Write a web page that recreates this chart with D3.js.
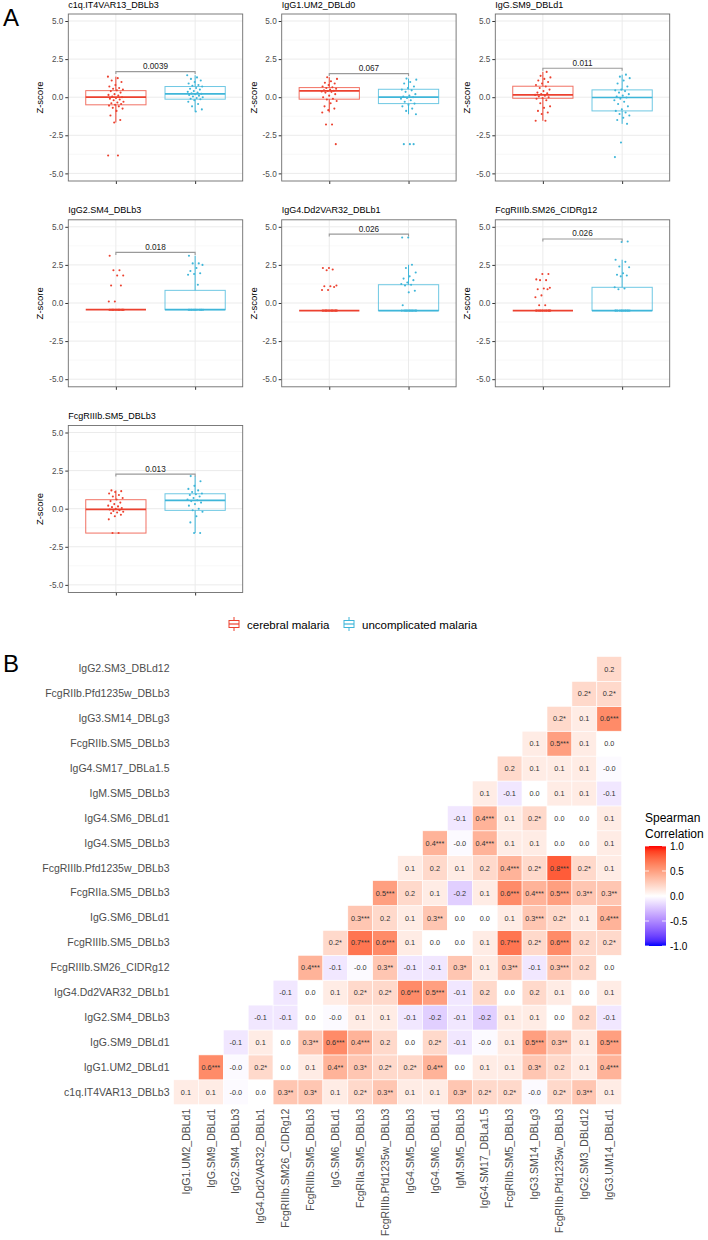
<!DOCTYPE html>
<html><head><meta charset="utf-8">
<script src="https://cdn.jsdelivr.net/npm/d3@7"></script>
<style>body{margin:0;background:#fff} svg{display:block;font-family:"Liberation Sans",Arial,sans-serif}</style>
</head><body><svg id="c" width="708" height="1240"></svg>
<script>
// ---------- Panel A data ----------
const groups = ["cerebral malaria", "uncomplicated malaria"];
const panelTitles = ["c1q.IT4VAR13_DBLb3","IgG1.UM2_DBLd0","IgG.SM9_DBLd1","IgG2.SM4_DBLb3","IgG4.Dd2VAR32_DBLb1","FcgRIIIb.SM26_CIDRg12","FcgRIIIb.SM5_DBLb3"];
const pLabels = ["0.0039","0.067","0.011","0.018","0.026","0.026","0.013"];
const bracketY = [1.68, 1.55, 1.9, 3.32, 4.52, 4.2, 2.27];
// box stats: [q1, median, q3, whiskerLow, whiskerHigh]
const boxCM = [[-0.5,0,0.43,-1.66,1.35],[-0.13,0.41,0.63,-1.0,1.31],[-0.07,0.15,0.72,-1.55,1.66],[-0.44,-0.44,-0.44,-0.44,-0.44],[-0.5,-0.5,-0.5,-0.5,-0.5],[-0.5,-0.5,-0.5,-0.5,-0.5],[-1.6,-0.05,0.59,-1.6,1.2]];
const boxUM = [[-0.13,0.22,0.7,-0.94,1.44],[-0.42,0.0,0.52,-1.12,1.22],[-0.9,-0.02,0.48,-1.75,1.48],[-0.44,-0.44,0.83,-0.44,3.1],[-0.5,-0.5,1.2,-0.5,2.51],[-0.5,-0.5,1.03,-0.5,2.84],[-0.11,0.54,0.98,-1.6,2.14]];
const ptsCM = [
 [1.35,1.25,1.1,1.0,0.8,0.7,0.6,0.55,0.5,0.45,0.4,0.3,0.2,0.15,0.1,0.05,0.0,-0.05,-0.1,-0.15,-0.2,-0.3,-0.35,-0.4,-0.45,-0.5,-0.55,-0.6,-0.7,-0.75,-0.9,-1.2,-1.5,-1.66,-3.83,-3.83],
 [1.31,1.2,1.05,0.95,0.9,0.8,0.7,0.65,0.6,0.55,0.5,0.45,0.42,0.41,0.38,0.35,0.3,0.2,0.1,0.0,-0.1,-0.15,-0.25,-0.4,-0.6,-0.75,-0.85,-1.0,-1.79,-1.79,-3.08],
 [1.66,1.4,1.3,1.2,1.1,1.0,0.9,0.8,0.7,0.6,0.5,0.4,0.3,0.25,0.2,0.15,0.1,0.05,0.0,-0.05,-0.1,-0.2,-0.4,-0.6,-0.7,-0.9,-1.0,-1.1,-1.55,-1.55],
 [3.1,2.15,2.15,1.8,1.8,1.15,1.15,0.1,0.1,-0.44,-0.44,-0.44,-0.44,-0.44,-0.44,-0.44,-0.44,-0.44,-0.44,-0.44,-0.44,-0.44,-0.44,-0.44,-0.44],
 [2.3,2.3,2.2,2.15,1.15,1.1,1.1,1.05,0.85,0.85,-0.5,-0.5,-0.5,-0.5,-0.5,-0.5,-0.5,-0.5,-0.5,-0.5,-0.5,-0.5,-0.5,-0.5,-0.5,-0.5],
 [1.9,1.9,1.55,1.5,1.5,1.0,0.95,0.9,0.9,0.5,0.38,-0.15,-0.15,-0.5,-0.5,-0.5,-0.5,-0.5,-0.5,-0.5,-0.5,-0.5,-0.5,-0.5,-0.5,-0.5,-0.5],
 [1.2,1.15,1.1,1.0,0.9,0.8,0.7,0.6,0.5,0.4,0.3,0.2,0.15,0.1,0.05,0.0,-0.05,-0.1,-0.15,-0.2,-0.25,-0.3,-0.4,-0.5,-0.7,-1.6,-1.6]
];
const ptsUM = [
 [1.44,1.3,1.2,1.1,1.0,0.9,0.8,0.75,0.7,0.6,0.55,0.5,0.4,0.35,0.3,0.25,0.22,0.2,0.15,0.1,0.05,0.0,-0.05,-0.1,-0.13,-0.2,-0.3,-0.45,-0.6,-0.8,-0.94],
 [1.22,1.15,1.0,0.9,0.7,0.6,0.5,0.45,0.35,0.2,0.1,0.05,0.0,-0.05,-0.1,-0.2,-0.3,-0.42,-0.5,-0.6,-0.75,-0.9,-1.12,-3.08,-3.08,-3.08],
 [1.48,1.35,1.25,1.1,0.9,0.7,0.5,0.45,0.4,0.3,0.2,0.1,0.05,-0.02,-0.1,-0.2,-0.3,-0.45,-0.6,-0.8,-0.9,-1.0,-1.1,-1.2,-1.35,-1.5,-1.75,-2.97,-3.93],
 [3.1,2.6,2.6,2.5,2.3,2.1,1.95,1.9,1.85,1.2,-0.44,-0.44,-0.44,-0.44,-0.44,-0.44,-0.44,-0.44,-0.44,-0.44,-0.44,-0.44],
 [4.3,4.3,2.51,2.3,2.0,1.75,1.6,1.5,1.35,1.25,1.2,1.15,0.8,0.7,-0.15,-0.5,-0.5,-0.5,-0.5,-0.5,-0.5,-0.5,-0.5,-0.5,-0.5,-0.5,-0.5],
 [4.04,4.0,2.84,2.7,2.4,2.35,1.95,1.85,1.8,1.75,1.03,0.95,0.9,-0.5,-0.5,-0.5,-0.5,-0.5,-0.5,-0.5,-0.5,-0.5,-0.5,-0.5,-0.5],
 [2.14,1.8,1.5,1.3,1.2,1.1,1.0,0.95,0.9,0.8,0.7,0.6,0.55,0.5,0.4,0.3,0.2,0.0,-0.1,-0.2,-0.5,-0.9,-1.6,-1.6]
];
const yTicks = [-5, -2.5, 0, 2.5, 5];
const yMinor = [-3.75, -1.25, 1.25, 3.75];
const groupColors = ["#EC412F", "#3FB6D9"];

// ---------- Panel B data ----------
const corrVars = ["c1q.IT4VAR13_DBLb3","IgG1.UM2_DBLd1","IgG.SM9_DBLd1","IgG2.SM4_DBLb3","IgG4.Dd2VAR32_DBLb1","FcgRIIIb.SM26_CIDRg12","FcgRIIIb.SM5_DBLb3","IgG.SM6_DBLd1","FcgRIIa.SM5_DBLb3","FcgRIIIb.Pfd1235w_DBLb3","IgG4.SM5_DBLb3","IgG4.SM6_DBLd1","IgM.SM5_DBLb3","IgG4.SM17_DBLa1.5","FcgRIIb.SM5_DBLb3","IgG3.SM14_DBLg3","FcgRIIb.Pfd1235w_DBLb3","IgG2.SM3_DBLd12","IgG3.UM14_DBLd1"];
// row i holds correlations of corrVars[i] with corrVars[i+1 .. 18]
const corrValues = [
 [0.1,0.1,-0.02,0.0,0.3,0.3,0.1,0.2,0.3,0.1,0.1,0.3,0.2,0.2,-0.02,0.2,0.3,0.1],
 [0.6,-0.02,0.2,0.0,0.1,0.4,0.3,0.2,0.2,0.4,0.0,0.1,0.1,0.3,0.2,0.1,0.4],
 [-0.1,0.1,0.0,0.3,0.6,0.4,0.2,0.0,0.2,-0.1,-0.02,0.1,0.5,0.3,0.1,0.5],
 [-0.1,-0.1,0.0,-0.02,0.1,0.1,-0.1,-0.2,-0.1,-0.2,0.1,0.1,0.0,0.2,-0.1],
 [-0.1,0.0,0.1,0.2,0.2,0.6,0.5,-0.1,0.2,0.0,0.2,0.1,0.0,0.1],
 [0.4,-0.1,-0.02,0.3,-0.1,-0.1,0.3,0.1,0.3,-0.1,0.3,0.2,0.0],
 [0.2,0.7,0.6,0.1,0.0,0.0,0.1,0.7,0.2,0.6,0.2,0.2],
 [0.3,0.2,0.1,0.3,0.0,0.0,0.1,0.3,0.2,0.1,0.4],
 [0.5,0.2,0.1,-0.2,0.1,0.6,0.4,0.5,0.3,0.3],
 [0.1,0.2,0.1,0.2,0.4,0.2,0.8,0.2,0.1],
 [0.4,-0.02,0.4,0.1,0.1,0.0,0.0,0.1],
 [-0.1,0.4,0.1,0.2,0.0,0.0,0.1],
 [0.1,-0.1,0.0,0.1,0.1,-0.1],
 [0.2,0.1,0.1,0.1,-0.02],
 [0.1,0.5,0.1,0.0],
 [0.2,0.1,0.6],
 [0.2,0.2],
 [0.2]
];
const corrStars = [
 ["","","","","**","*","","*","**","","","*","*","*","","*","**",""],
 ["***","","*","","","**","*","*","*","**","","","","*","","","***"],
 ["","","","**","***","***","","","*","","","","***","**","","***"],
 ["","","","","","","","","","","","","","",""],
 ["","","","*","*","***","***","","","","","","",""],
 ["***","","","**","","","*","","**","","***","",""],
 ["*","***","***","","","","","***","*","***","","*"],
 ["***","","","**","","","","***","*","","***"],
 ["***","","","","","***","***","***","**","**"],
 ["","","","","***","*","***","*",""],
 ["***","","***","","","","",""],
 ["","***","","*","","",""],
 ["","","","","",""],
 ["","","","",""],
 ["","***","",""],
 ["*","","***"],
 ["*","*"],
 [""]
];
const legendTicks = [-1, -0.5, 0, 0.5, 1];

// ---------- draw ----------
const svg = d3.select("#c");
const fmt1 = v => (v < 0 ? "-" : "") + Math.abs(v).toFixed(1);

svg.append("text").attr("x", 3).attr("y", 26).attr("font-size", 24).attr("fill", "#000").text("A");

const panelLeft = [68.3, 281.7, 495.3], panelW = 174.4;
const rowTop = [14, 219.8, 425.5], panelH = 167;

panelTitles.forEach((title, p) => {
  const col = p % 3, row = Math.floor(p / 3);
  const g = svg.append("g").attr("transform", `translate(${panelLeft[col]},${rowTop[row]})`);
  const y = d3.scaleLinear().domain([-5.5, 5.46]).range([panelH, 0]);
  const x = d3.scalePoint().domain(groups).range([0, panelW]).padding(0.6);
  const step = x.step();
  g.append("rect").attr("width", panelW).attr("height", panelH).attr("fill", "#fff");
  g.selectAll(".mn").data(yMinor).join("line").attr("x1", 0).attr("x2", panelW)
    .attr("y1", d => y(d)).attr("y2", d => y(d)).attr("stroke", "#f3f3f3").attr("stroke-width", 0.6);
  g.selectAll(".mj").data(yTicks).join("line").attr("x1", 0).attr("x2", panelW)
    .attr("y1", d => y(d)).attr("y2", d => y(d)).attr("stroke", "#ebebeb").attr("stroke-width", 1);
  g.selectAll(".vx").data(groups).join("line").attr("x1", d => x(d)).attr("x2", d => x(d))
    .attr("y1", 0).attr("y2", panelH).attr("stroke", "#ebebeb").attr("stroke-width", 1);

  const ya = g.append("g").call(d3.axisLeft(y).tickValues(yTicks).tickSize(3).tickPadding(2));
  ya.select(".domain").remove();
  ya.selectAll("line").attr("stroke", "#333");
  ya.selectAll("text").attr("font-size", 8.2).attr("fill", "#4d4d4d").attr("font-family", "Liberation Sans, Arial, sans-serif")
    .text(d => fmt1(d));
  const xa = g.append("g").attr("transform", `translate(0,${panelH})`).call(d3.axisBottom(x).tickSize(3).tickFormat(""));
  xa.select(".domain").remove();
  xa.selectAll("line").attr("stroke", "#333");

  g.append("text").attr("transform", `translate(-25,${panelH/2}) rotate(-90)`).attr("text-anchor", "middle")
    .attr("font-size", 9.5).attr("fill", "#000").text("Z-score");
  g.append("text").attr("x", 0).attr("y", -6.5).attr("font-size", 9).attr("fill", "#000").text(title);

  const bw = 0.76 * step;
  [boxCM[p], boxUM[p]].forEach((b, gi) => {
    const cx = x(groups[gi]), c = groupColors[gi];
    const [q1, med, q3, lo, hi] = b;
    g.append("line").attr("x1", cx).attr("x2", cx).attr("y1", y(q3)).attr("y2", y(hi)).attr("stroke", c).attr("stroke-width", 1);
    g.append("line").attr("x1", cx).attr("x2", cx).attr("y1", y(q1)).attr("y2", y(lo)).attr("stroke", c).attr("stroke-width", 1);
    g.append("rect").attr("x", cx - bw/2).attr("width", bw).attr("y", y(q3)).attr("height", Math.max(0, y(q1) - y(q3)))
      .attr("fill", "none").attr("stroke", c).attr("stroke-width", 1).attr("stroke-opacity", 0.75);
    g.append("line").attr("x1", cx - bw/2).attr("x2", cx + bw/2).attr("y1", y(med)).attr("y2", y(med)).attr("stroke", c).attr("stroke-width", 1.7);
    const pts = gi === 0 ? ptsCM[p] : ptsUM[p];
    g.selectAll(null).data(pts).join("circle")
      .attr("cx", (d, i) => cx + (((i * 0.6180339887 + p * 0.37) % 1) - 0.5) * 0.2 * step)
      .attr("cy", d => y(d)).attr("r", 1.05).attr("fill", c);
  });
  const by = y(bracketY[p]), x1 = x(groups[0]), x2 = x(groups[1]);
  g.append("path").attr("d", `M${x1},${by + 2.5}V${by}H${x2}V${by + 2.5}`).attr("fill", "none")
    .attr("stroke", "#9a9a9a").attr("stroke-width", 1.1);
  g.append("text").attr("x", (x1 + x2) / 2).attr("y", by - 2.6).attr("text-anchor", "middle")
    .attr("font-size", 8.2).attr("fill", "#222").text(pLabels[p]);

  g.append("rect").attr("width", panelW).attr("height", panelH).attr("fill", "none").attr("stroke", "#6e6e6e").attr("stroke-width", 0.9);
});

const lg = svg.append("g").attr("transform", "translate(228,617)");
const legendX = [0, 115];
groups.forEach((gname, i) => {
  const c = groupColors[i], gx = lg.append("g").attr("transform", `translate(${legendX[i]},0)`);
  gx.append("line").attr("x1", 6).attr("x2", 6).attr("y1", 0).attr("y2", 14).attr("stroke", c).attr("stroke-width", 1);
  gx.append("rect").attr("x", 1).attr("y", 3.5).attr("width", 10).attr("height", 7).attr("fill", "#fff").attr("stroke", c).attr("stroke-width", 1);
  gx.append("line").attr("x1", 1).attr("x2", 11).attr("y1", 7).attr("y2", 7).attr("stroke", c).attr("stroke-width", 1.2);
  gx.append("text").attr("x", 19).attr("y", 11.5).attr("font-size", 11.5).attr("fill", "#000").text(gname);
});

// ---------- Panel B ----------
svg.append("text").attr("x", 3).attr("y", 672).attr("font-size", 24).attr("fill", "#000").text("B");

const hx = d3.scaleBand().domain(corrVars.slice(1)).range([173.5, 621.7]);
const hy = d3.scaleBand().domain(corrVars.slice(0, 18)).range([1104.7, 656.5]);
const colorOf = v => v >= 0 ? d3.interpolateLab("#ffffff", "#ff0000")(v) : d3.interpolateLab("#ffffff", "#0000ff")(-v);

const cells = [];
corrValues.forEach((row, i) => row.forEach((v, k) => cells.push({ r: corrVars[i], c: corrVars[i + 1 + k], v, s: corrStars[i][k] })));
const hg = svg.append("g");
hg.selectAll("rect").data(cells).join("rect")
  .attr("x", d => hx(d.c)).attr("y", d => hy(d.r)).attr("width", hx.bandwidth()).attr("height", hy.bandwidth())
  .attr("fill", d => colorOf(d.v)).attr("stroke", "#fff").attr("stroke-width", 0.6);
hg.selectAll("text").data(cells).join("text")
  .attr("x", d => hx(d.c) + hx.bandwidth() / 2).attr("y", d => hy(d.r) + hy.bandwidth() / 2 + 2.6)
  .attr("text-anchor", "middle").attr("font-size", 7.3).attr("fill", "#333")
  .text(d => fmt1(d.v) + d.s);

const yAx = svg.append("g").attr("transform", "translate(173.5,0)").call(d3.axisLeft(hy).tickSize(0).tickPadding(4));
yAx.select(".domain").remove();
yAx.selectAll("text").attr("font-size", 10.5).attr("fill", "#4d4d4d").attr("font-family", "Liberation Sans, Arial, sans-serif");
const xAx = svg.append("g").attr("transform", "translate(0,1104.7)").call(d3.axisBottom(hx).tickSize(0).tickPadding(4));
xAx.select(".domain").remove();
xAx.selectAll("text").attr("font-size", 10.5).attr("fill", "#4d4d4d").attr("font-family", "Liberation Sans, Arial, sans-serif")
  .attr("transform", "rotate(-90)").attr("text-anchor", "end").attr("x", -4).attr("y", 0).attr("dy", "0.35em");

const cbY = d3.scaleLinear().domain([1, -1]).range([846, 946]);
const defs = svg.append("defs");
const grad = defs.append("linearGradient").attr("id", "cbg").attr("x1", 0).attr("x2", 0).attr("y1", 0).attr("y2", 1);
d3.range(0, 21).forEach(i => { const v = 1 - i / 10; grad.append("stop").attr("offset", (i / 20)).attr("stop-color", colorOf(v)); });
svg.append("rect").attr("x", 645).attr("y", 846).attr("width", 21).attr("height", 100).attr("fill", "url(#cbg)");
legendTicks.forEach(t => {
  svg.append("line").attr("x1", 645).attr("x2", 649).attr("y1", cbY(t)).attr("y2", cbY(t)).attr("stroke", "#fff").attr("stroke-width", 0.8);
  svg.append("line").attr("x1", 662).attr("x2", 666).attr("y1", cbY(t)).attr("y2", cbY(t)).attr("stroke", "#fff").attr("stroke-width", 0.8);
  svg.append("text").attr("x", 670).attr("y", cbY(t) + 3.5).attr("font-size", 10).attr("fill", "#000").text(fmt1(t));
});
svg.append("text").attr("x", 645).attr("y", 822).attr("font-size", 12).attr("fill", "#000").text("Spearman");
svg.append("text").attr("x", 645).attr("y", 838).attr("font-size", 12).attr("fill", "#000").text("Correlation");
</script></body></html>
